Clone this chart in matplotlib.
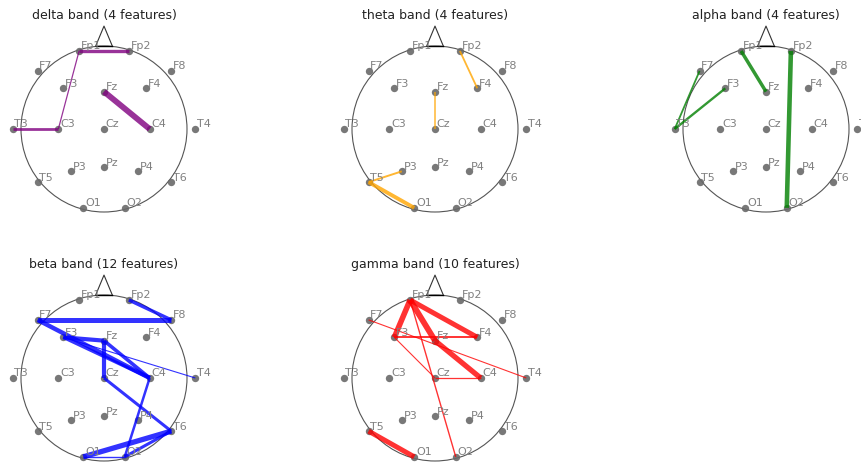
import matplotlib
matplotlib.use("Agg")
from matplotlib import pyplot as plt
from matplotlib.patches import Circle

# electrode positions on the head (unit circle, nose up)
electrodes = ["Fp1", "Fp2", "F7", "F3", "Fz", "F4", "F8",
              "T3", "C3", "Cz", "C4", "T4",
              "T5", "P3", "Pz", "P4", "T6", "O1", "O2"]
pos_x = [-0.30, 0.30, -0.80, -0.49, 0.00, 0.51, 0.81,
         -1.10, -0.55, 0.00, 0.55, 1.10,
         -0.80, -0.40, 0.00, 0.41, 0.81, -0.25, 0.25]
pos_y = [0.94, 0.94, 0.70, 0.49, 0.45, 0.49, 0.70,
         0.00, 0.00, 0.00, 0.00, 0.00,
         -0.64, -0.51, -0.46, -0.51, -0.64, -0.95, -0.95]

bands = ["delta", "theta", "alpha", "beta", "gamma"]
band_colors = ["purple", "orange", "green", "blue", "red"]

# connections per band: (electrode a, electrode b, weight)
delta_edges = [("Fp1", "Fp2", 2.4), ("Fp1", "C3", 0.9), ("T3", "C3", 2.0), ("Fz", "C4", 4.2)]
theta_edges = [("Fp2", "F4", 1.3), ("Fz", "Cz", 1.1), ("T5", "P3", 1.4), ("T5", "O1", 2.8)]
alpha_edges = [("F7", "T3", 1.3), ("F3", "T3", 1.7), ("Fp1", "Fz", 2.5), ("Fp2", "O2", 3.3)]
beta_edges = [("Fp2", "F8", 2.5), ("F7", "F8", 3.6), ("F7", "C4", 3.2), ("F3", "C4", 2.4),
              ("F3", "Fz", 3.0), ("F3", "T4", 0.8), ("Fz", "Cz", 3.0), ("Fz", "C4", 2.6),
              ("Cz", "T6", 2.2), ("C4", "O2", 1.8), ("T6", "O1", 3.8), ("T6", "O2", 2.2),
              ("O1", "O2", 1.0)]
gamma_edges = [("Fp1", "F3", 4.0), ("Fp1", "F4", 3.6), ("Fp1", "Fz", 4.2), ("Fz", "C4", 3.8),
               ("Fp1", "O2", 1.0), ("F3", "Cz", 0.8), ("Cz", "C4", 0.9), ("F3", "F4", 1.4),
               ("F7", "T4", 0.8), ("T5", "O1", 3.6)]
band_edges = [delta_edges, theta_edges, alpha_edges, beta_edges, gamma_edges]
band_features = [4, 4, 4, 12, 10]


def desenhar_cabeca(ax):
    ax.add_patch(Circle((0, 0), 1.0, fill=False, color="#555555", lw=0.8, zorder=1))
    # nariz
    ax.plot([-0.1, 0.0, 0.1], [1.0, 1.24, 1.0], color="#333333", lw=0.8, zorder=1)
    ax.plot([-0.1, 0.1], [1.0, 1.0], color="black", lw=1.0, zorder=1)


def desenhar_banda(ax, nome, cor, arestas, n_feat):
    desenhar_cabeca(ax)
    ax.scatter(pos_x, pos_y, s=28, color="dimgray", alpha=0.9, zorder=2, linewidths=0)
    for a, b, w in arestas:
        i = electrodes.index(a)
        j = electrodes.index(b)
        ax.plot([pos_x[i], pos_x[j]], [pos_y[i], pos_y[j]], color=cor, lw=w,
                alpha=0.8, solid_capstyle="butt", zorder=3)
    for k, nome_el in enumerate(electrodes):
        ax.text(pos_x[k] + 0.02, pos_y[k] + 0.055, nome_el, fontsize=8, color="gray",
                ha="left", va="center", zorder=4)
    ax.text(0, 1.37, f"{nome} band ({n_feat} features)", fontsize=9,
            color="#222222", ha="center", va="center")


fig = plt.figure(figsize=(8.62, 4.63), dpi=100)
W, H = 862, 463
escala = 83.0  # pixels por unidade
centros_x = [104, 435, 766]
centros_y = [129, 378]

for idx in range(6):
    cx = centros_x[idx % 3]
    cy = centros_y[idx // 3]
    x0, x1 = -1.6, 1.6
    y0, y1 = -1.15, 1.45
    rect = [(cx + x0 * escala) / W, (H - cy + y0 * escala) / H,
            (x1 - x0) * escala / W, (y1 - y0) * escala / H]
    ax = fig.add_axes(rect)
    ax.set_xlim(x0, x1)
    ax.set_ylim(y0, y1)
    ax.axis("off")
    if idx < len(bands):
        desenhar_banda(ax, bands[idx], band_colors[idx], band_edges[idx], band_features[idx])

fig.savefig("out.png", dpi=100)
